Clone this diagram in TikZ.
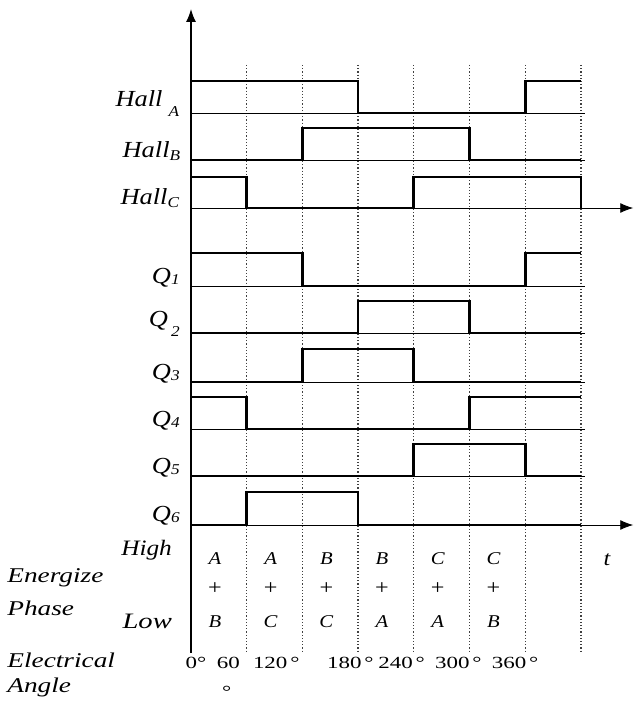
\documentclass[tikz,border=0pt]{standalone}
\usepackage{fontspec}
\setmainfont{Liberation Serif}[FakeStretch=1.15]
\newfontfamily\numfont{Liberation Serif}[FakeStretch=1.35]
\newfontfamily\widefont{Liberation Serif}[FakeStretch=1.3]
\usetikzlibrary{arrows.meta}
\newcommand{\lowsub}[2][0.3ex]{\raisebox{-#1}{\fontsize{15}{15}\selectfont #2}}

\begin{document}
\begin{tikzpicture}[x=55.7pt, y=-1pt, >={Latex[length=13pt,width=10pt]},
  rail/.style={line width=0.9pt},
  sig/.style={line width=2.6pt, line join=miter},
  grid/.style={line width=1.2pt, dotted, black!75},
  lbl/.style={anchor=base east, inner sep=0pt, font=\fontsize{23}{23}\selectfont\itshape},
  side/.style={anchor=base west, inner sep=0pt, font=\fontsize{21}{21}\widefont\itshape},
  phs/.style={anchor=base, inner sep=0pt, font=\fontsize{18}{18}\selectfont\itshape},
  ang/.style={anchor=base west, inner sep=0pt, font=\fontsize{17}{17}\numfont}]
  \useasboundingbox (-3.429,0) rectangle (7.971,709);
  % ------------------------------------------------------------------ axes and grid
  \foreach \i in {1,...,7} \draw[grid] (\i,65) -- (\i,652);
  \foreach \y in {113,160,286,333,382,429,476} \draw[rail] (0,\y) -- (7.07,\y);
  \foreach \y/\n in {208/hc,525/qs} {
    \coordinate (\n0) at (0,\y); \coordinate (\n1) at (7.94,\y);
    \draw[rail,->] (\n0) -- (\n1); }
  \coordinate (origin) at (0,653);
  \coordinate (ytip) at (0,9);
  \draw[line width=1.4pt,->] (origin) -- (ytip);
  % ------------------------------------------------------------------ hall signals
  \draw[sig] (0,113) -- (0,81) -- (3,81) -- (3,113) -- (6,113) -- (6,81) -- (7,81);
  \draw[sig] (0,160) -- (2,160) -- (2,128) -- (5,128) -- (5,160) -- (7,160);
  \draw[sig] (0,177) -- (1,177) -- (1,208) -- (4,208) -- (4,177) -- (7,177) -- (7,208);
  % ------------------------------------------------------------------ switches Q1..Q6
  \draw[sig] (0,286) -- (0,253) -- (2,253) -- (2,286) -- (6,286) -- (6,253) -- (7,253);
  \draw[sig] (0,333) -- (3,333) -- (3,301) -- (5,301) -- (5,333) -- (7,333);
  \draw[sig] (0,382) -- (2,382) -- (2,349) -- (4,349) -- (4,382) -- (7,382);
  \draw[sig] (0,397) -- (1,397) -- (1,429) -- (5,429) -- (5,397) -- (7,397);
  \draw[sig] (0,476) -- (4,476) -- (4,444) -- (6,444) -- (6,476) -- (7,476);
  \draw[sig] (0,525) -- (1,525) -- (1,492) -- (3,492) -- (3,525) -- (7,525);
  % ------------------------------------------------------------------ labels
  \node[lbl] (hallA) at (-0.21,106) {Hall\hspace{6pt}\lowsub[1.0ex]{A}};
  \node[lbl] (hallB) at (-0.19,157) {Hall\lowsub{B}};
  \node[lbl] (hallC) at (-0.21,204) {Hall\lowsub{C}};
  \foreach \k/\y in {1/283,3/379,4/426,5/473,6/521}
    \node[lbl] (q\k) at (-0.2,\y) {Q\lowsub[0.1ex]{\k}};
  \node[lbl] (q2) at (-0.2,326) {Q\hspace{3pt}\lowsub[1.0ex]{2}};
  \node[lbl, font=\fontsize{22}{22}\selectfont\itshape] (high) at (-0.34,555) {High};
  \node[lbl, font=\fontsize{22}{22}\widefont\itshape] (low) at (-0.34,628) {Low};
  \node[side] (energize) at (-3.30,582) {Energize};
  \node[side] (phase) at (-3.30,615) {Phase};
  \node[side] (electrical) at (-3.30,667) {Electrical};
  \node[side] (angle) at (-3.30,692) {Angle};
  \foreach \hi/\lo [count=\i from 0] in {A/B,A/C,B/C,B/A,C/A,C/B} {
    \node[phs] (hi\i) at (\i+0.43,564) {\hi};
    \node[font=\fontsize{21}{21}\selectfont, inner sep=0pt] (pl\i) at (\i+0.43,589) {+};
    \node[phs] (lo\i) at (\i+0.43,627) {\lo};
  }
  \node[phs, font=\fontsize{21}{21}\selectfont\itshape] (tlab) at (7.47,565) {t};
  % ------------------------------------------------------------------ electrical angle
  \node[ang, anchor=base] (a0) at (0.09,668) {0°};
  \node[ang, anchor=base] (a60) at (0.67,668) {60};
  \node[ang, anchor=base] (a60d) at (0.64,697) {°};
  \node[ang] (a120) at (1.11,668) {120\,°};
  \node[ang] (a180) at (2.44,668) {180\,°};
  \node[ang] (a240) at (3.36,668) {240\,°};
  \node[ang] (a300) at (4.38,668) {300\,°};
  \node[ang] (a360) at (5.40,668) {360\,°};
\end{tikzpicture}
\end{document}
